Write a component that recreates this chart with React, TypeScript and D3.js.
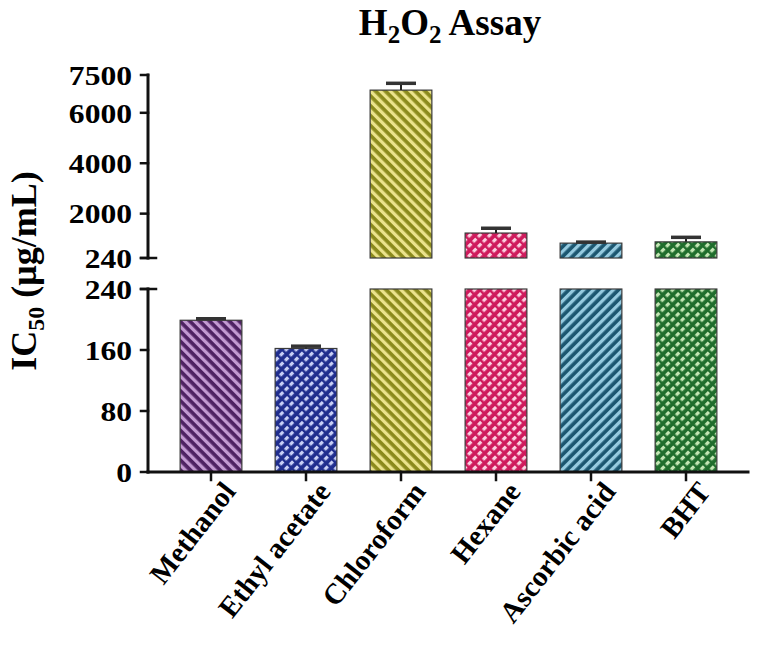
import * as d3 from "d3";
import { useEffect, useRef } from "react";

const categories = ["Methanol", "Ethyl acetate", "Chloroform", "Hexane", "Ascorbic acid", "BHT"];
const ic50 = [199, 162, 6900, 1230, 830, 880];
const sem = [2, 3, 270, 190, 40, 180];
const upperTicks = [240, 2000, 4000, 6000, 7500];
const lowerTicks = [0, 80, 160, 240];
// pattern per bar: [kind, dark, light]
const fills = [
  ["back", "#4e2262", "#c39ad2"],
  ["dash", "#1f2d8e", "#c9d0f6"],
  ["back", "#8b8a1c", "#ebe38c"],
  ["dash", "#cf1a5c", "#fbd1e1"],
  ["fwd", "#1b5670", "#96cbe0"],
  ["dash", "#1f6d2c", "#c3e6b4"],
];

export default function App() {
  const ref = useRef<SVGSVGElement>(null);

  useEffect(() => {
    const svg = d3.select(ref.current);
    svg.selectAll("*").remove();
    const font = "'Liberation Serif', 'Times New Roman', serif";

    const axisX = 148,
      axisEnd = 748;
    const x = d3.scaleBand().domain(categories).range([163.5, 733.5]).paddingInner(0.35).paddingOuter(0.175);
    const yLow = d3.scaleLinear().domain([0, 240]).range([472, 289]);
    const yHigh = d3.scaleLinear().domain([240, 7500]).range([258, 75]);

    const defs = svg.append("defs");
    fills.forEach(([kind, dark, light], i) => {
      const p = defs
        .append("pattern")
        .attr("id", "pat" + i)
        .attr("patternUnits", "userSpaceOnUse")
        .attr("width", 7)
        .attr("height", 7)
        .attr("patternTransform", kind === "back" ? "rotate(-45)" : "rotate(45)");
      p.append("rect").attr("width", 7).attr("height", 7).attr("fill", dark);
      if (kind === "dash") {
        p.append("rect").attr("x", 0).attr("y", 0).attr("width", 3.2).attr("height", 4.5).attr("fill", light);
      } else {
        p.append("rect").attr("x", 0).attr("y", 0).attr("width", 3.3).attr("height", 7).attr("fill", light);
      }
    });

    // title
    const title = svg
      .append("text")
      .attr("x", 450)
      .attr("y", 35)
      .attr("text-anchor", "middle")
      .style("font-family", font)
      .style("font-weight", "bold")
      .style("font-size", "37px");
    title.append("tspan").text("H");
    title.append("tspan").attr("dy", 8).style("font-size", "25px").text("2");
    title.append("tspan").attr("dy", -8).text("O");
    title.append("tspan").attr("dy", 8).style("font-size", "25px").text("2");
    title.append("tspan").attr("dy", -8).text(" Assay");

    // y label
    const ylab = svg
      .append("text")
      .attr("transform", "translate(36,271) rotate(-90)")
      .attr("text-anchor", "middle")
      .style("font-family", font)
      .style("font-weight", "bold")
      .style("font-size", "36px");
    ylab.append("tspan").text("IC");
    ylab.append("tspan").attr("dy", 8).style("font-size", "24px").text("50");
    ylab.append("tspan").attr("dy", -8).text(" (μg/mL)");

    // bars
    const g = svg.append("g");
    categories.forEach((c, i) => {
      const v = ic50[i];
      const bx = x(c)!;
      const bw = x.bandwidth();
      const cx = bx + bw / 2;
      const lowTop = yLow(Math.min(v, 240));
      g.append("rect")
        .attr("x", bx)
        .attr("y", lowTop)
        .attr("width", bw)
        .attr("height", yLow(0) - lowTop)
        .attr("fill", `url(#pat${i})`)
        .attr("stroke", "#3a3a3a")
        .attr("stroke-width", 1.2);
      let top = lowTop,
        errY = yLow(v + sem[i]);
      if (v > 240) {
        top = yHigh(v);
        errY = yHigh(v + sem[i]);
        g.append("rect")
          .attr("x", bx)
          .attr("y", top)
          .attr("width", bw)
          .attr("height", yHigh(240) - top)
          .attr("fill", `url(#pat${i})`)
          .attr("stroke", "#3a3a3a")
          .attr("stroke-width", 1.2);
      }
      g.append("line")
        .attr("x1", cx)
        .attr("x2", cx)
        .attr("y1", top)
        .attr("y2", errY)
        .attr("stroke", "#222")
        .attr("stroke-width", 2);
      g.append("line")
        .attr("x1", cx - 15)
        .attr("x2", cx + 15)
        .attr("y1", errY)
        .attr("y2", errY)
        .attr("stroke", "#333")
        .attr("stroke-width", 3.5);
    });

    // axes
    const ax = svg.append("g").attr("stroke", "#111").attr("stroke-linecap", "square");
    ax.append("line").attr("x1", axisX).attr("x2", axisX).attr("y1", yHigh(7500)).attr("y2", yHigh(240)).attr("stroke-width", 3);
    ax.append("line").attr("x1", axisX).attr("x2", axisX).attr("y1", yLow(240)).attr("y2", yLow(0)).attr("stroke-width", 3);
    ax.append("line").attr("x1", axisX).attr("x2", axisEnd).attr("y1", yLow(0)).attr("y2", yLow(0)).attr("stroke-width", 3);
    // break caps
    ax.append("line").attr("x1", axisX - 7).attr("x2", axisX + 8).attr("y1", yHigh(240)).attr("y2", yHigh(240)).attr("stroke-width", 2.5);
    ax.append("line").attr("x1", axisX - 7).attr("x2", axisX + 8).attr("y1", yLow(240)).attr("y2", yLow(240)).attr("stroke-width", 2.5);

    const tickLabel = (yy: number, t: string) =>
      svg
        .append("text")
        .attr("transform", `translate(${axisX - 16},${yy}) scale(1.17,1)`)
        .attr("dy", "0.36em")
        .attr("text-anchor", "end")
        .style("font-family", font)
        .style("font-weight", "bold")
        .style("font-size", "27px")
        .text(t);

    upperTicks.forEach((t) => {
      ax.append("line").attr("x1", axisX - 7).attr("x2", axisX).attr("y1", yHigh(t)).attr("y2", yHigh(t)).attr("stroke-width", 2.5);
      tickLabel(yHigh(t), String(t));
    });
    lowerTicks.forEach((t) => {
      ax.append("line").attr("x1", axisX - 7).attr("x2", axisX).attr("y1", yLow(t)).attr("y2", yLow(t)).attr("stroke-width", 2.5);
      tickLabel(yLow(t), String(t));
    });

    categories.forEach((c) => {
      const cx = x(c)! + x.bandwidth() / 2;
      ax.append("line").attr("x1", cx).attr("x2", cx).attr("y1", yLow(0)).attr("y2", yLow(0) + 8).attr("stroke-width", 2.5);
      svg
        .append("text")
        .attr("transform", `translate(${cx + 26},${yLow(0) + 20}) rotate(-52)`)
        .attr("text-anchor", "end")
        .style("font-family", font)
        .style("font-weight", "bold")
        .style("font-size", "29px")
        .text(c);
    });
  }, []);

  return (
    <svg
      ref={ref}
      width={760}
      height={655}
      style={{ display: "block", position: "absolute", left: 0, top: 0, background: "#fff" }}
    />
  );
}
